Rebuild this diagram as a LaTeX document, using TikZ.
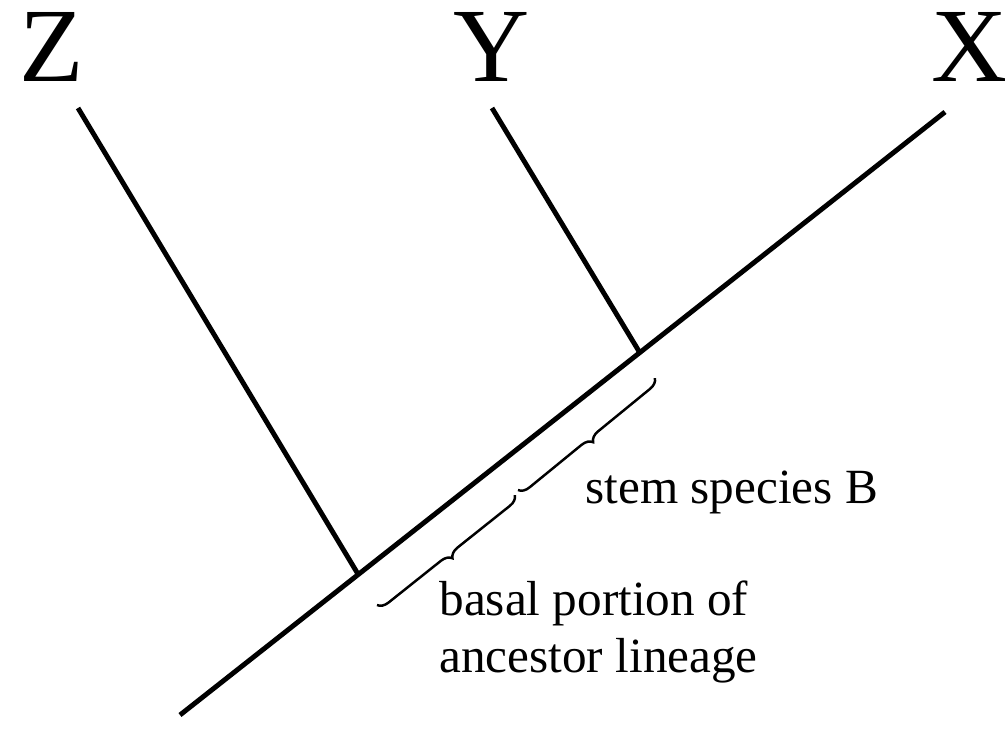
\documentclass[tikz,border=0pt]{standalone}
\usepackage{fontspec}
\setmainfont{Liberation Serif}
\usetikzlibrary{decorations.pathreplacing,calc,positioning}

\tikzset{
  branch/.style={line width=1.4pt},
  stembrace/.style={decorate,decoration={brace,mirror,amplitude=3pt},line width=0.7pt},
  taxon/.style={font=\fontsize{30}{30}\selectfont},
  note/.style={font=\fontsize{14}{16}\selectfont,align=left,anchor=west}
}

\begin{document}
\begin{tikzpicture}
\useasboundingbox (0,0) rectangle (10.05,7.5);
\coordinate (root) at (1.80,0.35);
\coordinate (xtip) at (9.45,6.38);
\coordinate (ytip) at (4.92,6.42);
\coordinate (ztip) at (0.78,6.42);
\coordinate (zjoin) at ($(root)!0.233!(xtip)$);
\coordinate (yjoin) at ($(root)!0.601!(xtip)$);
\node[taxon] (zlab) at (0.52,7.03) {Z};
\node[taxon] (ylab) at (4.92,7.03) {Y};
\node[taxon] (xlab) at (9.70,7.03) {X};
\draw[branch] (root) -- (xtip);
\draw[branch] (zjoin) -- (ztip);
\draw[branch] (yjoin) -- (ytip);
% braces along the ancestor lineage
\coordinate (b1) at (3.77,1.45);
\coordinate (b2) at (5.15,2.55);
\coordinate (b3) at (5.18,2.60);
\coordinate (b4) at (6.55,3.72);
\draw[stembrace] (b1) -- (b2);
\draw[stembrace] (b3) -- (b4);
\node[note] (stem) at (5.73,2.58) {stem species B};
\node[note] (basal) at (4.27,1.18) {basal portion of\\ancestor lineage};
\end{tikzpicture}
\end{document}
